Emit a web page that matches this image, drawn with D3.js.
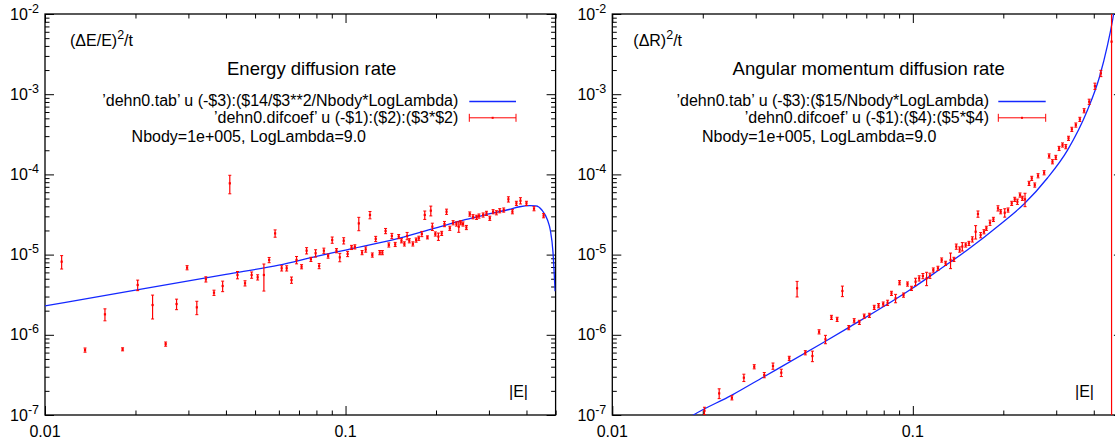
<!DOCTYPE html>
<html><head><meta charset="utf-8">
<script src="https://cdn.jsdelivr.net/npm/d3@7"></script>
<style>
body{margin:0;background:#fff;}
svg{display:block;font-family:"Liberation Sans",Arial,Helvetica,sans-serif;}
</style></head><body>
<svg id="c" width="1115" height="444"></svg>
<script>
// ---- axis definitions ----
const xDomain = [0.01, 0.5];
const yDomain = [1e-7, 1e-2];
const xTickLabels = [{v:0.01, t:"0.01"}, {v:0.1, t:"0.1"}];
const yTickExps = [-7, -6, -5, -4, -3, -2];

// ---- left panel: energy diffusion ----
const leftX = [0.01136,0.01359,0.01583,0.01812,0.02034,0.0228,0.0252,0.0274,0.0297,0.0320,0.0343,0.0365,0.039,0.0412,0.0437,0.0463,0.0487,0.051,0.0535,0.0557,0.0583,0.0613,0.0637,0.0661,0.0687,0.0714,0.0742,0.0767,0.0795,0.0817,0.0847,0.0875,0.0903,0.0933,0.0957,0.0986,0.1016,0.1047,0.1074,0.1107,0.1135,0.1167,0.1206,0.1228,0.126,0.13,0.1326,0.1359,0.1393,0.1426,0.1463,0.1503,0.1535,0.157,0.1603,0.163,0.1675,0.1718,0.1753,0.1794,0.1835,0.1873,0.1922,0.1945,0.199,0.2037,0.2089,0.2134,0.2168,0.2223,0.228,0.2339,0.2381,0.2416,0.246,0.2524,0.259,0.2656,0.2729,0.278,0.287,0.2944,0.302,0.3097,0.3177,0.3259,0.336,0.3483,0.3592,0.3703,0.382,0.4,0.4238,0.456];
const leftY = [8.16e-6,6.46e-7,1.80e-6,6.6e-7,4.18e-6,2.35e-6,7.67e-7,2.42e-6,6.87e-6,2.2e-6,4.92e-6,3.35e-6,4.06e-6,7.74e-5,5.57e-6,4.39e-6,5.57e-6,5.21e-6,5.57e-6,8.57e-6,1.84e-5,6.75e-6,6.75e-6,4.82e-6,8.57e-6,7.07e-6,1.12e-5,8.73e-6,1.04e-5,7.21e-6,1.12e-5,9.6e-6,1.52e-5,1.12e-5,9.25e-6,1.49e-5,1.02e-5,1.23e-5,1.25e-5,2.45e-5,1.06e-5,1.16e-5,3.12e-5,9.89e-6,1.57e-5,1.06e-5,1.06e-5,1.97e-5,1.32e-5,1.71e-5,1.34e-5,1.68e-5,1.49e-5,1.36e-5,1.71e-5,1.49e-5,1.36e-5,1.52e-5,1.6e-5,1.81e-5,3.12e-5,1.64e-5,3.53e-5,2.23e-5,1.81e-5,1.68e-5,1.84e-5,2.41e-5,3.43e-5,2.13e-5,2.5e-5,2.41e-5,2.23e-5,2.5e-5,2.41e-5,2.18e-5,3.21e-5,2.97e-5,2.92e-5,3.03e-5,3.12e-5,3.27e-5,2.84e-5,3.43e-5,3.33e-5,3.53e-5,3.6e-5,4.89e-5,3.43e-5,4.36e-5,4.7e-5,4.36e-5,3.74e-5,3.06e-5];
const leftRelErr = [0.19,0.06,0.17,0.044,0.15,0.33,0.06,0.15,0.06,0.19,0.075,0.075,0.15,0.26,0.105,0.075,0.09,0.075,0.37,0.075,0.105,0.075,0.075,0.09,0.105,0.06,0.09,0.06,0.105,0.075,0.075,0.06,0.09,0.06,0.12,0.09,0.075,0.06,0.06,0.19,0.06,0.075,0.105,0.06,0.075,0.06,0.06,0.075,0.06,0.075,0.06,0.06,0.06,0.06,0.105,0.06,0.06,0.06,0.06,0.075,0.12,0.044,0.14,0.105,0.06,0.105,0.06,0.075,0.075,0.06,0.06,0.06,0.15,0.06,0.06,0.06,0.06,0.06,0.06,0.06,0.06,0.06,0.06,0.06,0.06,0.06,0.06,0.075,0.06,0.06,0.09,0.06,0.06,0.06];
const leftCurveX = [0.01,0.02,0.04,0.06,0.08,0.1,0.15,0.2,0.25,0.3,0.35,0.38,0.41,0.43,0.45,0.47,0.48,0.49,0.495,0.498];
const leftCurveY = [2.29e-6,3.6e-6,5.67e-6,7.4e-6,9.5e-6,1.14e-5,1.59e-5,2.15e-5,2.73e-5,3.21e-5,3.65e-5,3.95e-5,4.07e-5,4.04e-5,3.6e-5,2.7e-5,2.03e-5,1.08e-5,5.57e-6,3.5e-6];

// ---- right panel: angular momentum diffusion ----
const rightX = [0.02026,0.02268,0.025,0.0274,0.02967,0.03204,0.03425,0.0365,0.0388,0.0412,0.04388,0.04633,0.04875,0.0512,0.0536,0.056,0.0583,0.0612,0.0638,0.0664,0.0689,0.0717,0.0744,0.0769,0.0797,0.0824,0.0849,0.0876,0.0903,0.0931,0.096,0.099,0.1021,0.105,0.108,0.1111,0.114,0.117,0.1212,0.1247,0.1285,0.1335,0.137,0.1395,0.1431,0.1461,0.1499,0.1537,0.1578,0.1618,0.1647,0.1681,0.1725,0.1757,0.1806,0.1854,0.192,0.196,0.2022,0.2074,0.2133,0.2183,0.2228,0.2273,0.2315,0.2362,0.2436,0.2487,0.2545,0.261,0.2734,0.2841,0.2915,0.299,0.3066,0.3148,0.3228,0.3296,0.3381,0.3486,0.3595,0.3715,0.3862,0.4035,0.4224,0.4584];
const rightY = [1.13e-7,1.86e-7,1.64e-7,2.92e-7,4.0e-7,3.15e-7,4.08e-7,3.37e-7,5.09e-7,3.8e-6,5.98e-7,5.44e-7,1.09e-6,8.79e-7,1.65e-6,1.56e-6,3.52e-6,1.23e-6,1.5e-6,1.43e-6,1.71e-6,1.75e-6,2.2e-6,2.31e-6,2.42e-6,2.51e-6,3.29e-6,2.85e-6,4.47e-6,3.13e-6,4.3e-6,3.8e-6,4.59e-6,5.06e-6,5.41e-6,5.06e-6,5.46e-6,6.43e-6,6.75e-6,8.57e-6,7.79e-6,8.57e-6,8.73e-6,1.26e-5,1.16e-5,1.26e-5,1.32e-5,1.38e-5,1.55e-5,1.93e-5,3.21e-5,1.75e-5,1.93e-5,2.13e-5,2.5e-5,2.75e-5,3.78e-5,3.43e-5,3.33e-5,3.6e-5,4.36e-5,4.89e-5,4.57e-5,5.54e-5,5.04e-5,4.89e-5,7.74e-5,8.93e-5,7.38e-5,9.63e-5,1.05e-4,1.7e-4,1.44e-4,1.63e-4,2.11e-4,2.33e-4,2.22e-4,2.82e-4,3.65e-4,4.13e-4,4.86e-4,6.23e-4,8.06e-4,1.26e-3,1.82e-3,4.52e-3];
const rightRelErr = [0.105,0.14,0.06,0.105,0.06,0.075,0.09,0.105,0.06,0.22,0.06,0.15,0.06,0.12,0.06,0.06,0.15,0.06,0.06,0.06,0.06,0.06,0.06,0.06,0.06,0.075,0.06,0.12,0.06,0.06,0.06,0.06,0.105,0.075,0.075,0.19,0.075,0.06,0.06,0.06,0.06,0.22,0.06,0.075,0.075,0.12,0.06,0.06,0.075,0.19,0.09,0.075,0.06,0.06,0.075,0.06,0.075,0.06,0.12,0.06,0.06,0.06,0.075,0.06,0.06,0.19,0.06,0.06,0.06,0.06,0.06,0.06,0.06,0.06,0.06,0.06,0.06,0.06,0.06,0.06,0.06,0.06,0.075,0.09,0.09,3];
const rightCurveX = [0.0175,0.01862,0.025,0.03186,0.05088,0.0609,0.0988,0.1221,0.1518,0.196,0.2344,0.2805,0.3272,0.3813,0.4169,0.4446,0.462,0.474];
const rightCurveY = [8.6e-8,1e-7,1.77e-7,2.98e-7,8.2e-7,1.22e-6,3.72e-6,6.43e-6,1.14e-5,2.41e-5,4.28e-5,9.02e-5,2.01e-4,6.35e-4,1.59e-3,4.11e-3,8.4e-3,1.49e-2];

const BLUE = "#1428ff", RED = "#ff0000";
const svg = d3.select("#c");

const panels = [
  {id:"L", x0:45, x1:555.6, y0:14, y1:415,
   X:leftX, Y:leftY, E:leftRelErr, CX:leftCurveX, CY:leftCurveY,
   ylab:["(ΔE/E)","2","/t"], ylabX:70,
   title:"Energy diffusion rate", titleX:311.7,
   leg1:"’dehn0.tab’ u (-$3):($14/$3**2/Nbody*LogLambda)",
   leg2:"’dehn0.difcoef’ u (-$1):($2):($3*$2)",
   legEnd:458.3, samp:[469.3,516], leg3X:248.8, eX:509},
  {id:"R", x0:612.3, x1:1122.9, y0:14, y1:415,
   X:rightX, Y:rightY, E:rightRelErr, CX:rightCurveX, CY:rightCurveY,
   ylab:["(ΔR)","2","/t"], ylabX:633.3,
   title:"Angular momentum diffusion rate", titleX:868.7,
   leg1:"’dehn0.tab’ u (-$3):($15/Nbody*LogLambda)",
   leg2:"’dehn0.difcoef’ u (-$1):($4):($5*$4)",
   legEnd:989, samp:[998.3,1045.7], leg3X:819.2, eX:1075}
];

const isMajor = v => Math.abs(Math.log10(v) - Math.round(Math.log10(v))) < 1e-6;

panels.forEach(P => {
  const sx = d3.scaleLog().domain(xDomain).range([P.x0, P.x1]);
  const sy = d3.scaleLog().domain(yDomain).range([P.y1, P.y0]);
  const g = svg.append("g");

  // clip
  svg.append("clipPath").attr("id","clip"+P.id).append("rect")
    .attr("x",P.x0).attr("y",P.y0).attr("width",P.x1-P.x0).attr("height",P.y1-P.y0);

  // ticks through d3 axes
  const xt = sx.ticks(), yt = sy.ticks();
  const xMaj = xt.filter(isMajor), xMin = xt.filter(v=>!isMajor(v));
  const yMaj = yt.filter(isMajor), yMin = yt.filter(v=>!isMajor(v));
  const axes = [
    [d3.axisBottom(sx), `translate(0,${P.y1})`, xMaj, xMin, -1],
    [d3.axisTop(sx), `translate(0,${P.y0})`, xMaj, xMin, -1],
    [d3.axisLeft(sy), `translate(${P.x0},0)`, yMaj, yMin, -1],
    [d3.axisRight(sy), `translate(${P.x1},0)`, yMaj, yMin, -1]
  ];
  axes.forEach(([ax, tr, maj, min]) => {
    [[maj, 9],[min, 4.5]].forEach(([vals, len]) => {
      const a = g.append("g").attr("transform", tr)
        .call(ax.tickValues(vals).tickSize(-len).tickSizeOuter(0).tickFormat(""));
      a.select(".domain").remove();
      a.selectAll("line").attr("stroke","#000").attr("stroke-width",1);
    });
  });

  // frame
  g.append("rect").attr("x",P.x0).attr("y",P.y0).attr("width",P.x1-P.x0).attr("height",P.y1-P.y0)
    .attr("fill","none").attr("stroke","#000").attr("stroke-width",1.3);

  // tick labels
  xTickLabels.forEach(d => {
    g.append("text").attr("x", sx(d.v)).attr("y", 437).attr("text-anchor","middle")
      .attr("font-size",16).attr("fill","#000").text(d.t);
  });
  yTickExps.forEach(e => {
    const t = g.append("text").attr("x", P.x0-6).attr("y", sy(Math.pow(10,e))+5.5)
      .attr("text-anchor","end").attr("font-size",16).attr("fill","#000");
    t.append("tspan").text("10");
    t.append("tspan").attr("dy",-7).attr("font-size",12.5).text(String(e));
  });

  // y label
  const yl = g.append("text").attr("x",P.ylabX).attr("y",46).attr("font-size",16).attr("fill","#000");
  yl.append("tspan").text(P.ylab[0]);
  yl.append("tspan").attr("dy",-7).attr("font-size",12.5).text(P.ylab[1]);
  yl.append("tspan").attr("dy",7).text(P.ylab[2]);

  // title
  g.append("text").attr("x",P.titleX).attr("y",75).attr("text-anchor","middle")
    .attr("font-size",18.5).attr("fill","#000").text(P.title);

  // legend
  g.append("text").attr("x",P.legEnd).attr("y",106).attr("text-anchor","end")
    .attr("font-size",16).attr("fill","#000").text(P.leg1);
  g.append("text").attr("x",P.legEnd).attr("y",123).attr("text-anchor","end")
    .attr("font-size",16).attr("fill","#000").text(P.leg2);
  g.append("text").attr("x",P.leg3X).attr("y",142).attr("text-anchor","middle")
    .attr("font-size",16).attr("fill","#000").text("Nbody=1e+005, LogLambda=9.0");
  g.append("line").attr("x1",P.samp[0]).attr("x2",P.samp[1]).attr("y1",101.5).attr("y2",101.5)
    .attr("stroke",BLUE).attr("stroke-width",1.3);
  const ly = 117.8;
  g.append("line").attr("x1",P.samp[0]).attr("x2",P.samp[1]).attr("y1",ly).attr("y2",ly)
    .attr("stroke",RED).attr("stroke-width",1);
  [P.samp[0],P.samp[1]].forEach(x => g.append("line").attr("x1",x).attr("x2",x)
    .attr("y1",ly-4).attr("y2",ly+4).attr("stroke",RED).attr("stroke-width",1));
  g.append("rect").attr("x",(P.samp[0]+P.samp[1])/2-1).attr("y",ly-1).attr("width",2).attr("height",2).attr("fill",RED);

  // |E| label
  g.append("text").attr("x",P.eX).attr("y",397).attr("font-size",16).attr("fill","#000").text("|E|");

  // data layer (clipped)
  const dl = svg.append("g").attr("clip-path",`url(#clip${P.id})`);
  const curve = P.CX.map((x,i)=>[x,P.CY[i]]);
  dl.append("path").datum(curve)
    .attr("d", d3.line().x(d=>sx(d[0])).y(d=>sy(d[1])).curve(d3.curveMonotoneX))
    .attr("fill","none").attr("stroke",BLUE).attr("stroke-width",1.3);

  const pts = P.X.map((x,i)=>({x, y:P.Y[i], e:P.E[i]}));
  const eg = dl.selectAll("g.pt").data(pts).enter().append("g").attr("class","pt");
  eg.each(function(d){
    const s = d3.select(this);
    const px = sx(d.x);
    const lo = d.y*(1-d.e) > 0 ? sy(d.y*(1-d.e)) : P.y1+20;
    const hi = sy(d.y*(1+d.e));
    s.append("line").attr("x1",px).attr("x2",px).attr("y1",lo).attr("y2",hi)
      .attr("stroke",RED).attr("stroke-width",1.2);
    [lo,hi].forEach(yy => s.append("line").attr("x1",px-1.5).attr("x2",px+1.5)
      .attr("y1",yy).attr("y2",yy).attr("stroke",RED).attr("stroke-width",1));
    s.append("rect").attr("x",px-1.1).attr("y",sy(d.y)-1.1).attr("width",2.2).attr("height",2.2).attr("fill",RED);
  });
});
</script>
</body></html>
